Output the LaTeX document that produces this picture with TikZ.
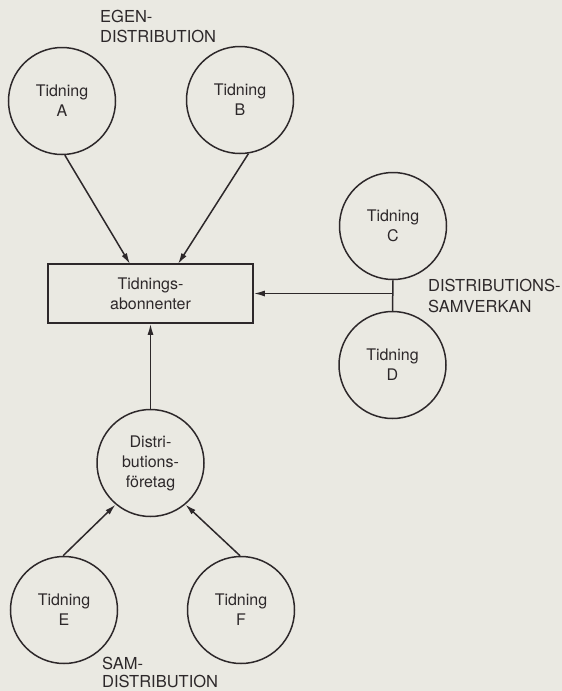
\documentclass[tikz,border=0pt]{standalone}
\usepackage{fontspec}
\setmainfont{TeX Gyre Heros}
\usetikzlibrary{arrows.meta}
\definecolor{bgc}{RGB}{234,233,226}
\definecolor{ink}{RGB}{45,40,42}
\begin{document}
\begin{tikzpicture}[x=1pt,y=-1pt,
  ink line/.style={draw=ink,line width=1.5pt},
  paper/.style={circle,ink line,minimum size=107pt,inner sep=0pt,align=center,
    font=\fontsize{16}{20}\selectfont,text=ink},
  abox/.style={rectangle,ink line,minimum width=205pt,minimum height=59pt,inner sep=0pt,
    align=center,font=\fontsize{16}{20}\selectfont,text=ink},
  lbl/.style={anchor=west,inner sep=0pt,font=\fontsize{16.5}{20}\selectfont,text=ink},
  conn/.style={ink line,-{Latex[length=11pt,width=6pt]}},
  plain/.style={ink line}]
\useasboundingbox (0,0) rectangle (562,691);
\fill[bgc] (0,0) rectangle (562,691);

\node[paper] (A) at (62,101) {Tidning\\A};
\node[paper] (B) at (240,100) {Tidning\\B};
\node[paper] (C) at (393,226) {Tidning\\C};
\node[paper] (D) at (392.5,365) {Tidning\\D};
\node[paper] (Dist) at (150.5,463) {Distri-\\butions-\\företag};
\node[paper] (E) at (64,610) {Tidning\\E};
\node[paper] (F) at (241,610) {Tidning\\F};
\node[abox] (box) at (150.5,293.5) {Tidnings-\\abonnenter};

\node[lbl] (egen1) at (100,16) {EGEN-};
\node[lbl] (egen2) at (100,36) {DISTRIBUTION};
\node[lbl] (sv1) at (428,285) {DISTRIBUTIONS-};
\node[lbl] (sv2) at (428,306) {SAMVERKAN};
\node[lbl] (sam1) at (102,663) {SAM-};
\node[lbl] (sam2) at (102,681) {DISTRIBUTION};

\coordinate (tA) at (130,264);
\coordinate (tB) at (178,264);
\coordinate (j) at (C.south |- box.east);

\draw[conn] (A.-87) -- (tA);
\draw[conn] (B.-81) -- (tB);
\draw[conn] (Dist.north) -- (box.south);
\draw[plain] (C.south) -- (D.north);
\draw[conn] (j) -- (box.east);
\draw[conn] (E.91) -- (Dist.-130);
\draw[conn] (F.91) -- (Dist.-50);
\end{tikzpicture}
\end{document}
